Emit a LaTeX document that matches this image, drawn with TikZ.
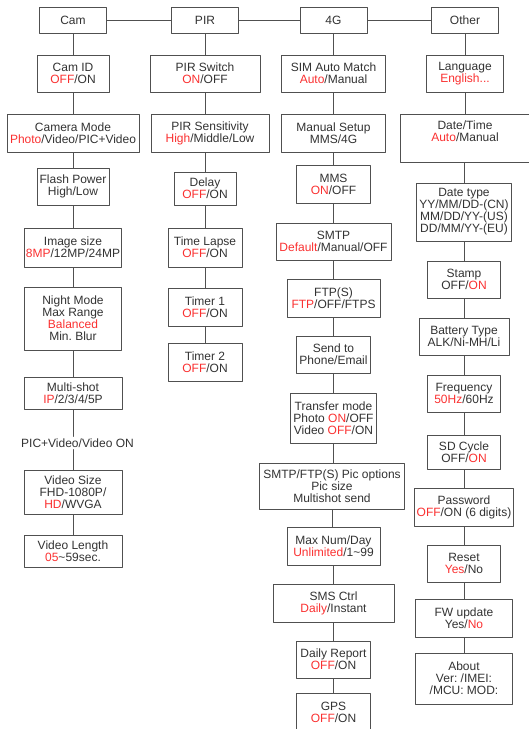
\documentclass[tikz,border=0pt]{standalone}
\usepackage{fontspec}
\setmainfont{Liberation Sans}
\definecolor{linegray}{RGB}{80,80,80}
\definecolor{txtgray}{RGB}{50,50,50}
\definecolor{selred}{RGB}{250,48,48}
\newcommand{\sel}[1]{\textcolor{selred}{#1}}
\frenchspacing
\begin{document}
\begin{tikzpicture}[x=1pt, y=-1pt, line join=round, line cap=round,
	font=\fontsize{12}{12}\selectfont, text=txtgray,
	box/.style={draw=linegray, line width=0.9pt, align=center, inner sep=0pt},
	dims/.style 2 args={minimum width=#1pt, minimum height=#2pt},
	lbl/.style={align=center, inner sep=2pt},
	link/.style={draw=linegray, line width=0.9pt}]
	\useasboundingbox (0,0) rectangle (529,729);
	\clip (0,0) rectangle (529,729);
	% top row
	\node[box, dims={67}{26}] (cam) at (73,20) {Cam};
	\node[box, dims={67}{26}] (pir) at (205,20) {PIR};
	\node[box, dims={67}{26}] (g4) at (333.5,20) {4G};
	\node[box, dims={67}{26}] (other) at (465,20) {Other};
	\draw[link] (cam) -- (pir) -- (g4) -- (other);
	% Cam
	\node[box, dims={72}{37}] (camid) at (73,73.5) {Cam ID\\\sel{OFF}/ON};
	\node[box, dims={132}{38}] (cammode) at (73,133) {Camera Mode\\\sel{Photo}/Video/PIC+Video};
	\node[box, dims={72}{37}] (flash) at (73,186.5) {Flash Power\\High/Low};
	\node[box, dims={97}{39}] (imgsize) at (73,247.5) {Image size\\\sel{8MP}/12MP/24MP};
	\node[box, dims={97}{63}] (night) at (73,318.5) {Night Mode\\Max Range\\\sel{Balanced}\\Min. Blur};
	\node[box, dims={98}{32}] (mshot) at (73,393) {Multi-shot\\\sel{IP}/2/3/4/5P};
	\node[lbl] (picvid) at (77.5,443) {PIC+Video/Video ON};
	\node[box, dims={98}{44}] (vsize) at (73,492) {Video Size\\FHD-1080P/\\\sel{HD}/WVGA};
	\node[box, dims={98}{32}] (vlen) at (73,551) {Video Length\\\sel{05}\textasciitilde59sec.};
	% PIR
	\node[box, dims={110}{37}] (pirsw) at (205,73.5) {PIR Switch\\\sel{ON}/OFF};
	\node[box, dims={118}{38}] (pirsens) at (210,133) {PIR Sensitivity\\\sel{High}/Middle/Low};
	\node[box, dims={62}{33}] (delay) at (205,188.5) {Delay\\\sel{OFF}/ON};
	\node[box, dims={74}{39}] (tlapse) at (205,247.5) {Time Lapse\\\sel{OFF}/ON};
	\node[box, dims={74}{38}] (timer1) at (205,307) {Timer 1\\\sel{OFF}/ON};
	\node[box, dims={74}{38}] (timer2) at (205,362) {Timer 2\\\sel{OFF}/ON};
	% 4G
	\node[box, dims={104}{37}] (sim) at (333.5,73.5) {SIM Auto Match\\\sel{Auto}/Manual};
	\node[box, dims={104}{38}] (mansetup) at (333.5,133) {Manual Setup\\MMS/4G};
	\node[box, dims={74}{38}] (mms) at (333.5,184) {MMS\\\sel{ON}/OFF};
	\node[box, dims={115}{37}] (smtp) at (333.5,241.5) {SMTP\\\sel{Default}/Manual/OFF};
	\node[box, dims={93}{38}] (ftp) at (333.5,298) {FTP(S)\\\sel{FTP}/OFF/FTPS};
	\node[box, dims={74}{37}] (sendto) at (333.5,354.5) {Send to\\Phone/Email};
	\node[box, dims={86}{50}] (transfer) at (333.5,418) {Transfer mode\\Photo \sel{ON}/OFF\\Video \sel{OFF}/ON};
	\node[box, dims={145}{46}] (picopt) at (332,486) {SMTP/FTP(S) Pic options\\Pic size\\Multishot send};
	\node[box, dims={93}{38}] (maxnum) at (333.5,546) {Max Num/Day\\\sel{Unlimited}/1\textasciitilde99};
	\node[box, dims={121}{38}] (smsctrl) at (333.5,603) {SMS Ctrl\\\sel{Daily}/Instant};
	\node[box, dims={74}{37}] (daily) at (333.5,659.5) {Daily Report\\\sel{OFF}/ON};
	\node[box, dims={74}{38}] (gps) at (333.5,712) {GPS\\\sel{OFF}/ON};
	% Other
	\node[box, dims={77}{37}] (lang) at (465,73.5) {Language\\\sel{English...}};
	\node[box, dims={140}{48}] (dtime) at (470,138) {};
	\node[lbl] (dtimetxt) at (465,131) {Date/Time\\\sel{Auto}/Manual};
	\node[box, dims={95}{58}] (dtype) at (464,212) {Date type\\YY/MM/DD-(CN)\\MM/DD/YY-(US)\\DD/MM/YY-(EU)};
	\node[box, dims={73}{37}] (stamp) at (464,279.5) {Stamp\\OFF/\sel{ON}};
	\node[box, dims={90}{37}] (battery) at (464,336.5) {Battery Type\\ALK/Ni-MH/Li};
	\node[box, dims={73}{37}] (freq) at (464,393.5) {Frequency\\\sel{50Hz}/60Hz};
	\node[box, dims={73}{34}] (sdcycle) at (464,452) {SD Cycle\\OFF/\sel{ON}};
	\node[box, dims={99}{38}] (passwd) at (464,507) {Password\\\sel{OFF}/ON (6 digits)};
	\node[box, dims={73}{37}] (reset) at (464,563.5) {Reset\\\sel{Yes}/No};
	\node[box, dims={97}{38}] (fwup) at (464,618) {FW update\\Yes/\sel{No}};
	\node[box, dims={97}{51}] (about) at (464,678.5) {About\\Ver: /IMEI:\\/MCU: MOD:};
	% connectors
	\foreach \a/\b in {cam/camid, camid/cammode, cammode/flash, flash/imgsize, imgsize/night,
		night/mshot, mshot/picvid, vsize/vlen, pir/pirsw, pirsw/pirsens, delay/tlapse,
		tlapse/timer1, timer1/timer2, g4/sim, sim/mansetup, mansetup/mms, mms/smtp, smtp/ftp,
		ftp/sendto, sendto/transfer, transfer/picopt, picopt/maxnum, maxnum/smsctrl,
		smsctrl/daily, daily/gps, other/lang, lang/dtime, dtype/stamp, stamp/battery,
		battery/freq, freq/sdcycle, sdcycle/passwd, passwd/reset, reset/fwup, fwup/about}
		\draw[link] (\a.south) -- (\a.south |- \b.north);
	\foreach \a/\b in {picvid/vsize, pirsens/delay, dtime/dtype}
		\draw[link] (\b.north |- \a.south) -- (\b.north);
\end{tikzpicture}
\end{document}
